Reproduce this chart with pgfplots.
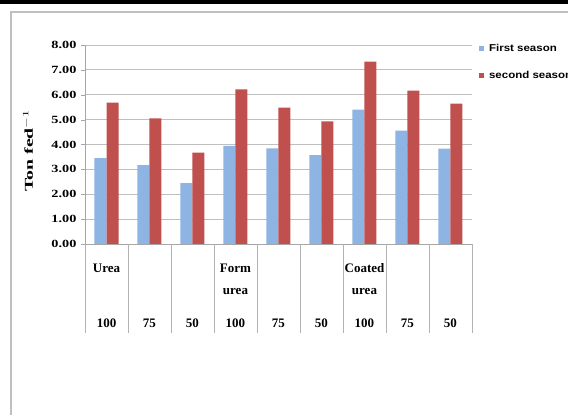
\documentclass[border=0pt]{standalone}
\usepackage{pgfplots}
\pgfplotsset{compat=1.18}
\usepackage{fontspec}
\setmainfont{Liberation Serif}
\newfontfamily\lsans{Liberation Sans}
\definecolor{blueS}{RGB}{141,180,226}
\definecolor{redS}{RGB}{192,80,77}
\newcommand{\lab}[3]{\strut #1\\[7pt]\strut #2\\[18pt]\strut #3}
\begin{document}
\begin{tikzpicture}[x=1pt,y=1pt]
\path[use as bounding box] (0,0) rectangle (568,415);
\fill[black] (0,411) rectangle (568,415);
\draw[gray!50, line width=1.2pt] (11,0) -- (11,403) -- (568,403);
\begin{axis}[
  at={(85pt,171pt)}, anchor=south west,
  scale only axis, width=387pt, height=199pt,
  ymin=0, ymax=8, ytick={0,1,...,8},
  xmin=-0.5, xmax=8.5,
  ybar=0pt, bar width=12pt,
  xtick={0,...,8},
  xticklabels={{\lab{Urea}{}{100}},{\lab{}{}{75}},{\lab{}{}{50}},{\lab{Form}{urea}{100}},{\lab{}{}{75}},{\lab{}{}{50}},{\lab{Coated}{urea}{100}},{\lab{}{}{75}},{\lab{}{}{50}}},
  xticklabel style={font=\fontsize{13}{15}\selectfont\bfseries, align=center, anchor=north, yshift=-10pt},
  x tick style={draw=none},
  axis x line*=bottom, axis y line*=left,
  axis line style={gray!70},
  y tick style={gray!70},
  tick align=outside, major tick length=4pt,
  ymajorgrids, grid style={gray!50, line width=0.8pt},
  yticklabel style={font=\fontsize{11}{13}\selectfont\bfseries, xscale=1.3, anchor=east},
  /pgf/number format/.cd, fixed, fixed zerofill, precision=2, assume math mode=true,
  /pgfplots/.cd,
  ylabel={Ton fed$^{-1}$},
  ylabel style={font=\fontsize{12}{14}\selectfont\bfseries, at={(axis description cs:-0.147,0.47)}, anchor=center, xscale=1.65},
  legend style={at={(axis description cs:1.017,1.015)}, anchor=north west, draw=none, fill=none,
    font=\lsans\bfseries\fontsize{10}{12}\selectfont, row sep=14pt, inner sep=0pt,
    nodes={xscale=1.15}},
  legend cell align=left,
]
\addplot[fill=blueS, draw=none, legend image code/.code={\fill[blueS] (0pt,-2.5pt) rectangle (5pt,2.5pt); \path (8pt,0pt);}]
  coordinates {(0,3.45) (1,3.17) (2,2.45) (3,3.94) (4,3.84) (5,3.57) (6,5.40) (7,4.56) (8,3.83)};
\addlegendentry{First season}
\addplot[fill=redS, draw=none, legend image code/.code={\fill[redS] (0pt,-2.5pt) rectangle (5pt,2.5pt); \path (8pt,0pt);}]
  coordinates {(0,5.68) (1,5.05) (2,3.67) (3,6.22) (4,5.48) (5,4.93) (6,7.33) (7,6.17) (8,5.64)};
\addlegendentry{second season}
\end{axis}
\foreach \k in {0,...,9} \draw[gray!60, line width=0.8pt] (85+43*\k,171) -- (85+43*\k,82);
\end{tikzpicture}
\end{document}
